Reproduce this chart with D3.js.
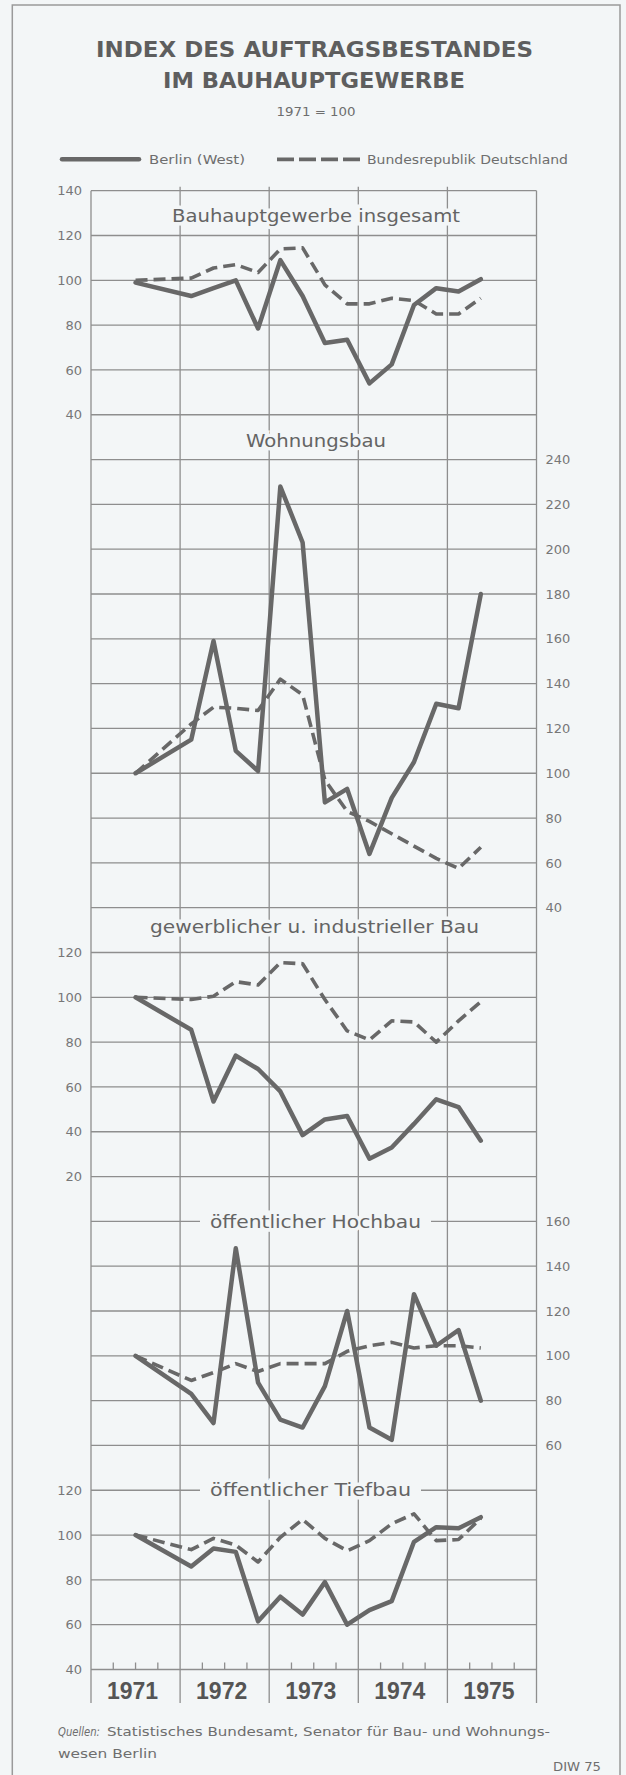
<!DOCTYPE html>
<html>
<head>
<meta charset="utf-8">
<script src="https://cdn.jsdelivr.net/npm/d3@7"></script>
<style>
body { margin: 0; background: #f3f6f7; }
svg { display: block; }
text { font-family: "DejaVu Sans", sans-serif; fill: #6e6e6e; }
</style>
</head>
<body>
<svg id="chart" width="626" height="1775"></svg>
<script>
// periods: 1971 = annual average, then quarters I/1972 .. II/1975 (plotted at the middle of the quarter)
let periods = [1971.5, 1972.125, 1972.375, 1972.625, 1972.875, 1973.125, 1973.375, 1973.625,
    1973.875, 1974.125, 1974.375, 1974.625, 1974.875, 1975.125, 1975.375];
let years = [1971, 1972, 1973, 1974, 1975];

// Bauhauptgewerbe insgesamt
let insgesamtBerlin = [99, 93, 96.5, 100, 78.5, 109, 93, 72, 73.5, 54, 62.5, 89, 96.5, 95, 100.5];
let insgesamtBRD = [100, 101, 105.5, 107, 103.5, 114, 114.5, 98, 89.5, 89.5, 92, 91, 85, 85, 92];
// Wohnungsbau
let wohnungBerlin = [100, 115, 159, 110, 101, 228, 203, 87, 93, 64, 89, 105, 131, 129, 180];
let wohnungBRD = [100, 122, 129.5, 129, 128, 142, 135, 97, 83, 78.5, 73, 67.5, 62, 57.5, 67];
// gewerblicher u. industrieller Bau
let gewerbBerlin = [100, 85.5, 53.5, 74, 68, 58, 38.5, 45.5, 47, 28, 33, 43.5, 54.5, 51, 36];
let gewerbBRD = [100, 99, 100.5, 107, 105.5, 115.5, 115, 99, 85, 81, 89.5, 89, 80, 89.5, 98];
// öffentlicher Hochbau
let hochbauBerlin = [100, 83, 70, 148, 88, 71.5, 68, 86.5, 120, 68, 62.5, 127.5, 104.5, 111.5, 80];
let hochbauBRD = [100, 89, 92.5, 96.5, 93, 96.5, 96.5, 96.5, 102, 104.5, 106, 103.5, 104.5, 104.5, 103.5];
// öffentlicher Tiefbau
let tiefbauBerlin = [100, 86, 94, 92.5, 61.5, 72.5, 64.5, 79, 60, 66.5, 70.5, 97, 103.5, 103, 108];
let tiefbauBRD = [100, 93.5, 98.5, 95.5, 88, 99, 107, 98.5, 93, 97.5, 105, 109.5, 97.5, 98, 107.5];

let bg = "#f3f6f7";
let gridColor = "#8e8e8e";
let lineColor = "#686868";

let svg = d3.select("#chart");

// one continuous grid, the panels share its horizontal lines
let left = 91, right = 536.5;
let nLines = 33;
let gy = d3.scaleLinear().domain([0, nLines]).range([190.7, 1669.5]);
let x = d3.scaleLinear().domain([1971, 1976]).range([left, right]);

let panels = [
    { title: "Bauhauptgewerbe insgesamt", berlin: insgesamtBerlin, brd: insgesamtBRD,
      top: 0, bottom: 5, max: 140, min: 40, side: "left", ty: 221.7, tx: 316, tl: 288, cut: false },
    { title: "Wohnungsbau", berlin: wohnungBerlin, brd: wohnungBRD,
      top: 6, bottom: 16, max: 240, min: 40, side: "right", ty: 446.7, tx: 316, tl: 140, cut: false },
    { title: "gewerblicher u. industrieller Bau", berlin: gewerbBerlin, brd: gewerbBRD,
      top: 17, bottom: 22, max: 120, min: 20, side: "left", ty: 933, tx: 314.5, tl: 329, cut: false },
    { title: "öffentlicher Hochbau", berlin: hochbauBerlin, brd: hochbauBRD,
      top: 23, bottom: 28, max: 160, min: 60, side: "right", ty: 1228, tx: 315.5, tl: 211, cut: true },
    { title: "öffentlicher Tiefbau", berlin: tiefbauBerlin, brd: tiefbauBRD,
      top: 29, bottom: 33, max: 120, min: 40, side: "left", ty: 1495.5, tx: 310.5, tl: 201, cut: true }
];

// outer frame
svg.append("rect")
    .attr("x", 12.3).attr("y", 5)
    .attr("width", 607.7).attr("height", 1790)
    .attr("fill", "none")
    .attr("stroke", "#9a9a9a")
    .attr("stroke-width", 1.5);

// headline
svg.append("text")
    .attr("x", 314.5).attr("y", 56.7)
    .attr("text-anchor", "middle")
    .attr("font-size", 21).attr("font-weight", "bold")
    .attr("textLength", 437).attr("lengthAdjust", "spacingAndGlyphs")
    .style("fill", "#5e5e5e")
    .text("INDEX DES AUFTRAGSBESTANDES");
svg.append("text")
    .attr("x", 314).attr("y", 88.3)
    .attr("text-anchor", "middle")
    .attr("font-size", 21).attr("font-weight", "bold")
    .attr("textLength", 302).attr("lengthAdjust", "spacingAndGlyphs")
    .style("fill", "#5e5e5e")
    .text("IM BAUHAUPTGEWERBE");
svg.append("text")
    .attr("x", 316).attr("y", 116)
    .attr("text-anchor", "middle")
    .attr("font-size", 12.5)
    .attr("textLength", 79).attr("lengthAdjust", "spacingAndGlyphs")
    .text("1971 = 100");

// legend
svg.append("line")
    .attr("x1", 62).attr("x2", 139).attr("y1", 159.3).attr("y2", 159.3)
    .attr("stroke", lineColor).attr("stroke-width", 4.5).attr("stroke-linecap", "round");
svg.append("text")
    .attr("x", 149).attr("y", 163.6)
    .attr("font-size", 12)
    .attr("textLength", 96).attr("lengthAdjust", "spacingAndGlyphs")
    .text("Berlin (West)");
svg.append("line")
    .attr("x1", 277).attr("x2", 361).attr("y1", 159.3).attr("y2", 159.3)
    .attr("stroke", lineColor).attr("stroke-width", 3.8)
    .attr("stroke-dasharray", "17,5");
svg.append("text")
    .attr("x", 367).attr("y", 163.6)
    .attr("font-size", 12)
    .attr("textLength", 201).attr("lengthAdjust", "spacingAndGlyphs")
    .text("Bundesrepublik Deutschland");

// horizontal grid
let grid = svg.append("g").attr("class", "grid");
grid.selectAll(".hline")
    .data(d3.range(0, nLines + 1))
    .enter()
    .append("line")
    .attr("class", "hline")
    .attr("x1", left).attr("x2", right)
    .attr("y1", d => gy(d)).attr("y2", d => gy(d))
    .attr("stroke", gridColor).attr("stroke-width", 1.3);

// vertical grid: borders and year boundaries
grid.selectAll(".vline")
    .data(d3.range(1971, 1977))
    .enter()
    .append("line")
    .attr("class", "vline")
    .attr("x1", d => x(d)).attr("x2", d => x(d))
    .attr("y1", d => (d == 1971 || d == 1976) ? gy(0) : gy(0) - 4)
    .attr("y2", 1703)
    .attr("stroke", gridColor).attr("stroke-width", 1.3);

// quarter ticks on the bottom line
let qticks = [];
years.forEach(yr => [0.25, 0.5, 0.75].forEach(q => qticks.push(yr + q)));
grid.selectAll(".qtick")
    .data(qticks)
    .enter()
    .append("line")
    .attr("x1", d => x(d)).attr("x2", d => x(d))
    .attr("y1", gy(nLines) - 7).attr("y2", gy(nLines))
    .attr("stroke", gridColor).attr("stroke-width", 1.3);

// year labels
svg.selectAll(".year")
    .data(years)
    .enter()
    .append("text")
    .attr("class", "year")
    .attr("x", d => x(d + 0.5) - 3)
    .attr("y", 1699)
    .attr("text-anchor", "middle")
    .style("font-family", "'Liberation Sans', sans-serif")
    .attr("font-size", 23).attr("font-weight", "bold")
    .style("fill", "#555")
    .text(d => d);

let solid = d3.line().x((d, i) => x(periods[i]));
let dashed = d3.line().x((d, i) => x(periods[i]));

panels.forEach(p => {
    let y = d3.scaleLinear().domain([p.max, p.min]).range([gy(p.top), gy(p.bottom)]);

    // panel title, the grid is broken around it
    if (p.cut) {
        svg.append("rect")
            .attr("x", p.tx - p.tl / 2 - 10).attr("y", p.ty - 10)
            .attr("width", p.tl + 20).attr("height", 8)
            .attr("fill", bg);
    }
    svg.append("text")
        .attr("x", p.tx).attr("y", p.ty)
        .attr("text-anchor", "middle")
        .attr("font-size", 17.5)
        .attr("textLength", p.tl).attr("lengthAdjust", "spacingAndGlyphs")
        .attr("stroke", bg).attr("stroke-width", 7)
        .attr("paint-order", "stroke")
        .style("fill", "#646464")
        .text(p.title);

    // value axis
    let ticks = d3.range(p.min, p.max + 1, 20);
    let axis = (p.side == "left" ? d3.axisLeft(y) : d3.axisRight(y))
        .tickValues(ticks).tickSize(0).tickPadding(p.side == "left" ? 9 : 9);
    let g = svg.append("g")
        .attr("transform", "translate(" + (p.side == "left" ? left : right) + ",0)")
        .call(axis);
    g.select(".domain").remove();
    g.selectAll("text")
        .attr("font-family", "'Liberation Sans', sans-serif")
        .attr("font-size", 13)
        .style("fill", "#777");

    solid.y(d => y(d));
    dashed.y(d => y(d));

    svg.append("path")
        .datum(p.brd)
        .attr("d", dashed)
        .attr("fill", "none")
        .attr("stroke", lineColor)
        .attr("stroke-width", 3.6)
        .attr("stroke-dasharray", "12,6")
        .attr("stroke-linejoin", "round");

    svg.append("path")
        .datum(p.berlin)
        .attr("d", solid)
        .attr("fill", "none")
        .attr("stroke", lineColor)
        .attr("stroke-width", 4.5)
        .attr("stroke-linejoin", "round")
        .attr("stroke-linecap", "round");
});

// sources
svg.append("text")
    .attr("x", 58).attr("y", 1736)
    .attr("font-size", 13).attr("font-style", "italic")
    .attr("textLength", 42).attr("lengthAdjust", "spacingAndGlyphs")
    .text("Quellen:");
svg.append("text")
    .attr("x", 107).attr("y", 1736)
    .attr("font-size", 13)
    .attr("textLength", 443).attr("lengthAdjust", "spacingAndGlyphs")
    .text("Statistisches Bundesamt, Senator für Bau- und Wohnungs-");
svg.append("text")
    .attr("x", 58).attr("y", 1758)
    .attr("font-size", 13)
    .attr("textLength", 99).attr("lengthAdjust", "spacingAndGlyphs")
    .text("wesen Berlin");
svg.append("text")
    .attr("x", 553).attr("y", 1771)
    .attr("font-size", 13)
    .attr("textLength", 48).attr("lengthAdjust", "spacingAndGlyphs")
    .text("DIW 75");
</script>
</body>
</html>
